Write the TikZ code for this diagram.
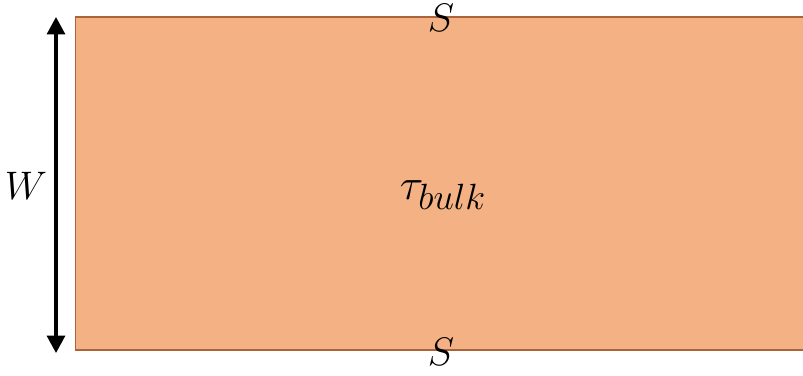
\documentclass[tikz,border=0pt]{standalone}
\usepackage{amsmath}
\usepackage{amssymb}
\usepackage{tikz}
\usetikzlibrary{arrows.meta}

\tikzset{
  slab/.style={draw={rgb, 255:red, 170; green, 100; blue, 60}, fill={rgb, 255:red, 244; green, 177; blue, 131}, line width=0.9},
  widtharrow/.style={black, line width=2.3, {Triangle[length=13pt,width=13.5pt]}-{Triangle[length=13pt,width=13.5pt]}},
  biglabel/.style={inner sep=0.75pt, font=\Huge, scale=1.2}
}

\begin{document}
\begin{tikzpicture}[x=0.75pt,y=0.75pt,yscale=-1,xscale=1]
        \useasboundingbox (0,0) rectangle (803,375);
        \clip (0,0) rectangle (803,375);

        %Shape: Rectangle [id:slab]
        \draw [slab] (75.5,17) rectangle (812,350) ;

        %Straight Lines [id:width]
        \coordinate (wtop) at (56,17) ;
        \coordinate (wbot) at (56,353) ;
        \draw [widtharrow] (wbot) -- (wtop) ;

        % Text Node
        \node [biglabel] (width) at (26,186) {$W$};
        % Text Node
        \node [biglabel] (topsurf) at (441,17.5) {$S$};
        % Text Node
        \node [biglabel] (botsurf) at (441,352) {$S$};
        % Text Node
        \node [biglabel, scale=1.1] (bulk) at (443,195) {$\tau_{bulk}$};

    \end{tikzpicture}
\end{document}
